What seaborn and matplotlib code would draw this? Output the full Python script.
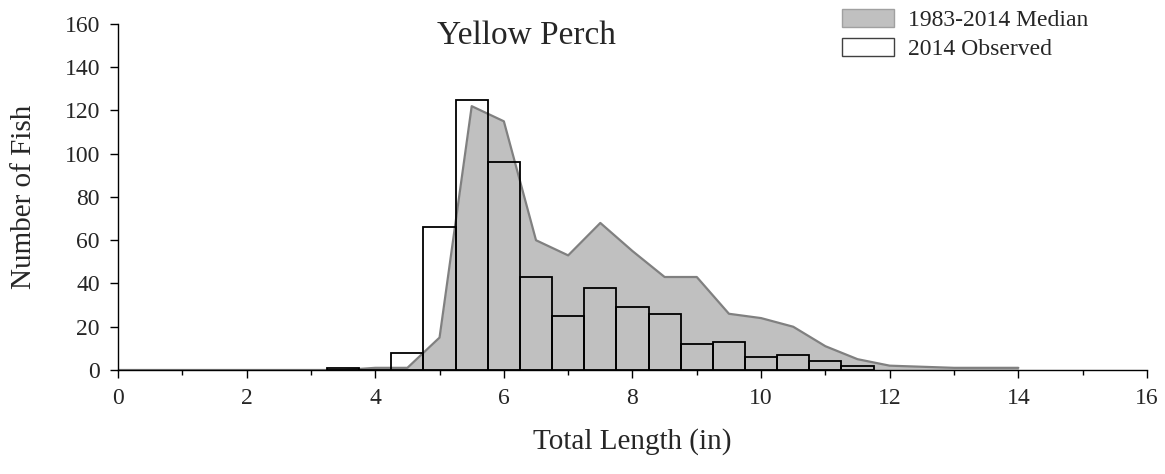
import matplotlib
matplotlib.use('Agg')
import matplotlib.pyplot as plt
import seaborn as sns
from matplotlib.patches import Patch
from matplotlib.ticker import MultipleLocator

# Дані: довжина (дюйми) та кількість риби
median_length = [0.0, 0.5, 1.0, 1.5, 2.0, 2.5, 3.0, 3.5, 4.0, 4.5, 5.0, 5.5, 6.0,
                 6.5, 7.0, 7.5, 8.0, 8.5, 9.0, 9.5, 10.0, 10.5, 11.0, 11.5, 12.0,
                 12.5, 13.0, 13.5, 14.0]
median_count = [0, 0, 0, 0, 0, 0, 0, 0, 1, 1, 15, 122, 115,
                60, 53, 68, 55, 43, 43, 26, 24, 20, 11, 5, 2,
                1.5, 1, 1, 1]

observed_length = [3.5, 4.0, 4.5, 5.0, 5.5, 6.0, 6.5, 7.0, 7.5, 8.0, 8.5, 9.0,
                   9.5, 10.0, 10.5, 11.0, 11.5]
observed_count = [1, 0, 8, 66, 125, 96, 43, 25, 38, 29, 26, 12,
                  13, 6, 7, 4, 2]

sns.set_style('white')
plt.rcParams['font.family'] = ['Liberation Serif', 'DejaVu Serif']

fig = plt.figure(figsize=(11.65, 4.74), dpi=100)
ax = fig.add_axes([0.1013, 0.2194, 0.8832, 0.73])

# Медіана 1983-2014 - заповнена область
ax.fill_between(median_length, median_count, color='#c0c0c0', linewidth=0, zorder=1)
sns.lineplot(x=median_length, y=median_count, color='#808080', linewidth=1.6,
             ax=ax, zorder=2)

# Спостереження 2014 - порожні стовпчики (ширина = крок 0.5 дюйма)
sns.barplot(x=observed_length, y=observed_count, native_scale=True, width=1,
            fill=False, color='black', linewidth=1.3, errorbar=None, ax=ax,
            zorder=3)

ax.set_xlim(0, 16)
ax.set_ylim(0, 160)
ax.xaxis.set_major_locator(MultipleLocator(2))
ax.xaxis.set_minor_locator(MultipleLocator(1))
ax.yaxis.set_major_locator(MultipleLocator(20))

for side in ['top', 'right']:
    ax.spines[side].set_visible(False)
for side in ['left', 'bottom']:
    ax.spines[side].set_color('black')
    ax.spines[side].set_linewidth(1.0)

ax.tick_params(axis='both', which='major', direction='out', length=6, width=1,
               color='black', labelsize=17, pad=7, left=True, bottom=True)
ax.tick_params(axis='x', which='minor', direction='out', length=3.5, width=1,
               color='black', bottom=True)

ax.set_xlabel('Total Length (in)', fontsize=21, labelpad=14)
ax.set_ylabel('Number of Fish', fontsize=21, labelpad=20)
ax.text(0.397, 0.965, 'Yellow Perch', transform=ax.transAxes, ha='center',
        va='center', fontsize=24)

handles = [Patch(facecolor='#c0c0c0', edgecolor='#a0a0a0', linewidth=1),
           Patch(facecolor='white', edgecolor='#404040', linewidth=1)]
fig.legend(handles, ['1983-2014 Median', '2014 Observed'], loc='upper left',
           bbox_to_anchor=(0.7145, 1.0), frameon=False, fontsize=17,
           handlelength=2.2, handleheight=0.75, handletextpad=0.6,
           labelspacing=0.3, borderaxespad=0)

fig.savefig('out.png', dpi=100)
